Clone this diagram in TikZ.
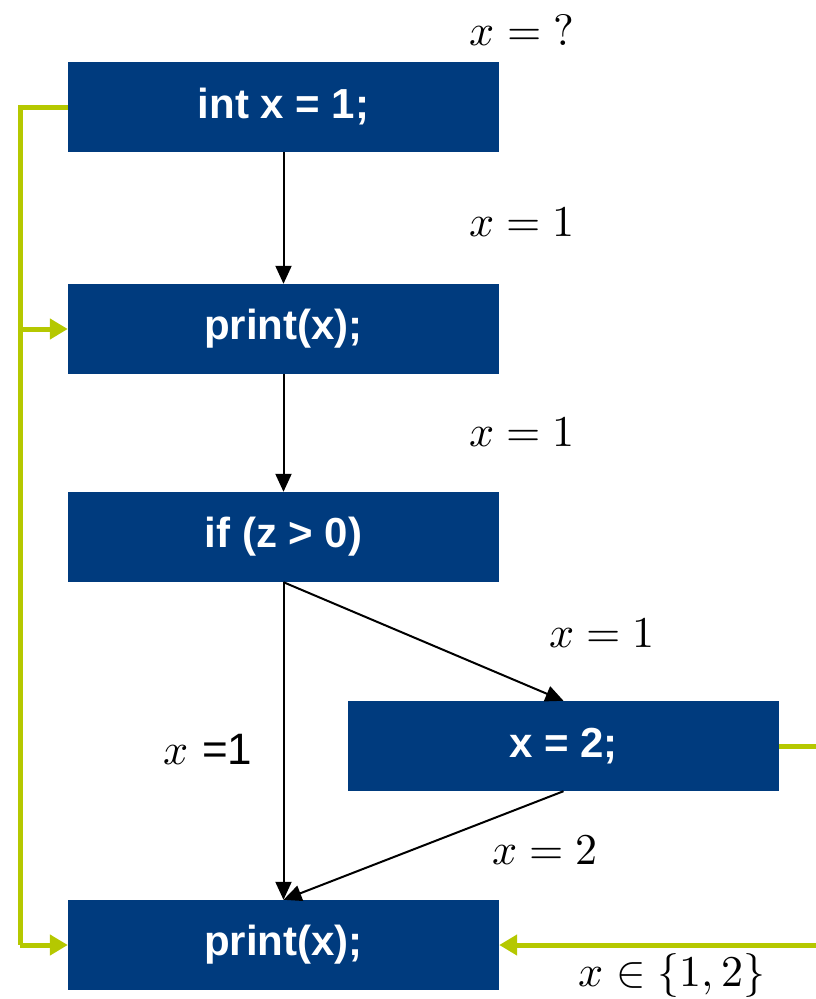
\documentclass[tikz,border=0pt]{standalone}
\usepackage{fontspec}
\usepackage{unicode-math}
\setmathfont{Latin Modern Math}
\setsansfont{Liberation Sans}
\usetikzlibrary{arrows.meta}
\definecolor{boxblue}{RGB}{0,59,126}
\definecolor{lime}{RGB}{181,200,0}
\tikzset{
  block/.style={fill=boxblue, minimum width=431pt, minimum height=90pt, inner sep=0pt,
    text=white, font=\sffamily\bfseries\fontsize{42}{50}\selectfont},
  flow/.style={draw=black, line width=2pt, -{Triangle[length=18pt,width=16pt]}},
  gflow/.style={draw=lime, line width=5pt, -{Triangle[length=18pt,width=20pt]}},
  gline/.style={draw=lime, line width=5pt},
  lab/.style={font=\fontsize{44}{52}\selectfont, inner sep=0pt}
}
\begin{document}
\begin{tikzpicture}[x=1pt,y=-1pt]
\useasboundingbox (0,0) rectangle (815,999);
\node[block] (b1) at (283.5,107) {int x = 1;};
\node[block] (b2) at (283.5,329) {print(x);};
\node[block] (b3) at (283.5,537) {if (z > 0)};
\node[block] (b4) at (563.5,746) {x = 2;};
\node[block] (b5) at (283.5,945) {print(x);};

\node[lab] (l0) at (522,30) {$x = ?$};
\node[lab] (l1) at (522,222) {$x = 1$};
\node[lab] (l2) at (522,432) {$x = 1$};
\node[lab] (l3) at (602,633) {$x = 1$};
\node[lab] (l4) at (208,750) {$x$ \sffamily =1};
\node[lab] (l5) at (545,850) {$x = 2$};
\node[lab] (l6) at (672,975) {$x \in \{1,2\}$};

\draw[flow] (b1.south) -- (b2.north);
\draw[flow] (b2.south) -- (b3.north);
\draw[flow] (b3.south) -- (b5.north);
\draw[flow] (b3.south) -- (b4.north);
\draw[flow] (b4.south) -- (b5.north);

\coordinate (lt) at (20,107);
\coordinate (lm) at (20,329);
\coordinate (lb) at (20,945);
\coordinate (r1) at (816,746);
\coordinate (r2) at (816,945);
\draw[gline] (b1.west) -- (lt) -- (lb);
\draw[gflow] (lm) -- (b2.west);
\draw[gflow] (lb) -- (b5.west);
\draw[gline] (b4.east) -- (r1);
\draw[gflow] (r2) -- (b5.east);
\end{tikzpicture}
\end{document}
